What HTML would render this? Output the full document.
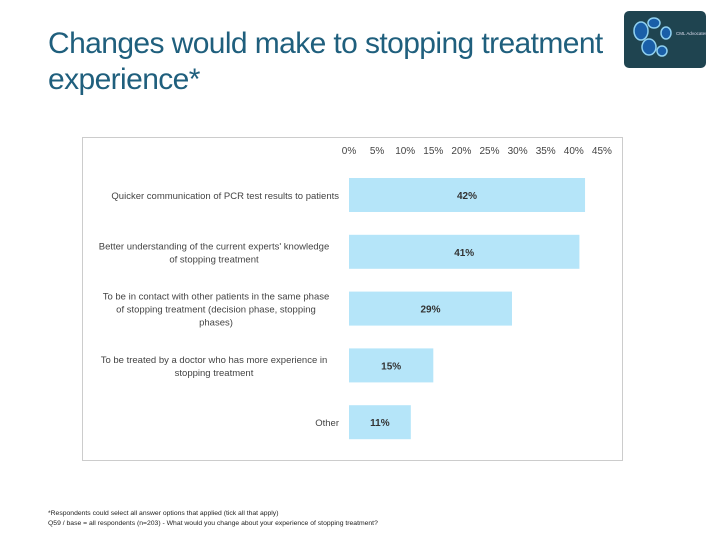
<!DOCTYPE html>
<html><head><meta charset="utf-8"><style>
body{margin:0;width:720px;height:540px;background:#fff;overflow:hidden;font-family:"Liberation Sans",sans-serif;position:relative}
#title{position:absolute;left:48px;top:26px;font-size:30px;line-height:36px;color:#1f5f7d;letter-spacing:-0.6px;white-space:nowrap}
#logo{position:absolute;left:624px;top:11px;width:82px;height:57px;background:#1f4450;border-radius:5px}
#foot{position:absolute;left:48px;top:509px;font-size:6.8px;line-height:10px;color:#222}
</style></head><body>
<div id="title">Changes would make to stopping treatment<br>experience*</div>
<div id="logo">
<svg width="82" height="57">
<ellipse cx="17" cy="20" rx="7" ry="9" fill="#1a5fa8" stroke="#8fd0f0" stroke-width="1.5"/>
<ellipse cx="30" cy="12" rx="6" ry="5" fill="#1a5fa8" stroke="#8fd0f0" stroke-width="1.5"/>
<ellipse cx="42" cy="22" rx="5" ry="6" fill="#1a5fa8" stroke="#8fd0f0" stroke-width="1.5"/>
<ellipse cx="25" cy="36" rx="7" ry="8" fill="#1a5fa8" stroke="#8fd0f0" stroke-width="1.5"/>
<ellipse cx="38" cy="40" rx="5" ry="5" fill="#1a5fa8" stroke="#8fd0f0" stroke-width="1.5"/>
<text x="52" y="24" font-size="4.5" fill="#dde">CML Advocates Network</text>
</svg></div>
<svg id="chart" width="720" height="540" style="position:absolute;left:0;top:0"></svg>
<div id="foot">*Respondents could select all answer options that applied (tick all that apply)<br>Q59 / base = all respondents (n=203) - What would you change about your experience of stopping treatment?</div>
<script>
const categories=[["Quicker communication of PCR test results to patients"],["Better understanding of the current experts' knowledge","of stopping treatment"],["To be in contact with other patients in the same phase","of stopping treatment (decision phase, stopping","phases)"],["To be treated by a doctor who has more experience in","stopping treatment"],["Other"]];
const values=[42,41,29,15,11];
const ticks=[0,5,10,15,20,25,30,35,40,45];
const svg=document.getElementById('chart');const NS='http://www.w3.org/2000/svg';
function el(t,a,p){const e=document.createElementNS(NS,t);for(const k in a)e.setAttribute(k,a[k]);(p||svg).appendChild(e);return e;}
const x0=349,pxPer=5.62;
function xs(v){return x0+v*pxPer;}
function yc(i){return 195+i*56.8;}
const box=el('rect',{x:82.5,y:137.5,width:540,height:323,fill:'#fff',stroke:'#ccc'});


ticks.forEach(t=>{const tx=el('text',{x:xs(t),y:154,'text-anchor':'middle','font-size':10,fill:'#444'});tx.textContent=t+'%';

});
values.forEach((v,i)=>{
const r=el('rect',{x:xs(0),y:yc(i)-17,width:xs(v)-xs(0),height:34,fill:'#b5e5f9'});


const lb=el('text',{x:(xs(0)+xs(v))/2,y:yc(i)+4,'text-anchor':'middle','font-size':10,'font-weight':'bold',fill:'#333'});lb.textContent=v+'%';


const lines=categories[i];const n=lines.length;
lines.forEach((s,j)=>{const c=el('text',{x:n==1?339:(n==3?216:214),y:yc(i)+4+(j-(n-1)/2)*13,'text-anchor':n==1?'end':'middle','font-size':9.5,fill:'#444'});c.textContent=s;

});
});
</script>
</body></html>
